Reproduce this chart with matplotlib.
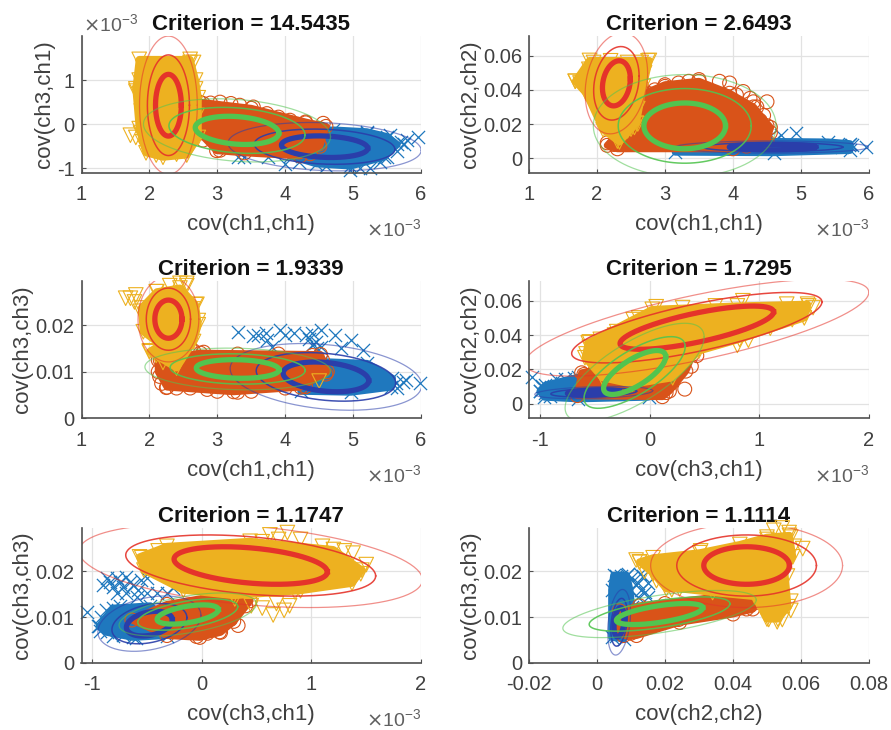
#!/usr/bin/env python3
# coding: utf-8

import matplotlib

matplotlib.use("Agg")
import matplotlib.pyplot as plt
import numpy as np

# x-values of ch1 and ch3,ch1 axes are in units of 1e-3 (as the axis multiplier shows)
titles = ["Criterion = 14.5435", "Criterion = 2.6493", "Criterion = 1.9339",
          "Criterion = 1.7295", "Criterion = 1.1747", "Criterion = 1.1114"]
xlabels = ["cov(ch1,ch1)", "cov(ch1,ch1)", "cov(ch1,ch1)",
           "cov(ch3,ch1)", "cov(ch3,ch1)", "cov(ch2,ch2)"]
ylabels = ["cov(ch3,ch1)", "cov(ch2,ch2)", "cov(ch3,ch3)",
           "cov(ch2,ch2)", "cov(ch3,ch3)", "cov(ch3,ch3)"]

xticks_ch1 = [1, 2, 3, 4, 5, 6]
xticks_ch31 = [-1, 0, 1, 2]
xticks_ch22 = [-0.02, 0, 0.02, 0.04, 0.06, 0.08]
yticks_ch31 = [-1, 0, 1]
yticks_ch22 = [0, 0.02, 0.04, 0.06]
yticks_ch33 = [0, 0.01, 0.02]
xticklabels_ch22 = ["-0.02", "0", "0.02", "0.04", "0.06", "0.08"]
yticklabels_ch22 = ["0", "0.02", "0.04", "0.06"]
yticklabels_ch33 = ["0", "0.01", "0.02"]

xlim_ch1 = (1, 6)
xlim_ch31 = (-1.1, 2)
xlim_ch22 = (-0.02, 0.08)
ylim_ch31 = (-1.1, 2)
ylim_ch22 = (-0.0085, 0.0715)
ylim_ch33 = (0, 0.0295)

# ellipses: cx, cy, sx, sy, corr
p1_red = (2.28, 0.43, 0.19, 0.70, 0.0)
p1_green = (3.29, -0.14, 0.615, 0.32, -0.2)
p1_blue = (4.58, -0.51, 0.635, 0.245, -0.15)
p2_red = (2.285, 0.0438, 0.205, 0.0132, 0.2)
p2_green = (3.29, 0.0189, 0.60, 0.0134, 0.0)
p2_blue = (4.58, 0.0065, 0.635, 0.0016, 0.0)
p3_red = (2.28, 0.0213, 0.20, 0.0041, 0.0)
p3_green = (3.30, 0.0106, 0.61, 0.0020, -0.1)
p3_blue = (4.60, 0.0089, 0.63, 0.0032, -0.25)
p4_red = (0.43, 0.0443, 0.70, 0.0126, 0.73)
p4_green = (-0.137, 0.0182, 0.283, 0.0128, 0.72)
p4_blue = (-0.51, 0.0065, 0.24, 0.0016, 0.3)
p5_red = (0.445, 0.0213, 0.70, 0.0041, -0.34)
p5_green = (-0.13, 0.0106, 0.28, 0.0021, 0.5)
p5_blue = (-0.48, 0.0086, 0.21, 0.0027, 0.3)
p6_red = (0.044, 0.0213, 0.0126, 0.0041, 0.0)
p6_green = (0.0184, 0.0107, 0.0127, 0.0023, 0.6)
p6_blue = (0.0065, 0.0089, 0.0015, 0.0032, 0.3)

# dense core outlines of each cluster
p1_yel_core = [(1.85, 1.47), (2.6, 1.47), (2.68, 1.0), (2.72, 0.6), (2.72, -0.3), (2.55, -0.7),
               (2.2, -0.75), (1.95, -0.65), (1.85, -0.1), (1.8, 0.8)]
p1_org_core = [(2.74, 0.5), (3.5, 0.36), (4.3, 0.05), (4.6, -0.05), (4.51, -0.5), (4.22, -0.72), (3.4, -0.65),
               (2.99, -0.6), (2.74, -0.2)]
p1_blu_core = [(4.12, -0.2), (4.71, -0.13), (5.2, -0.17), (5.5, -0.28), (5.65, -0.46), (5.45, -0.75), (4.96, -0.95),
               (4.46, -0.9), (4.07, -0.72), (3.9, -0.5)]
p2_yel_core = [(1.89, 0.0572), (2.77, 0.0572), (2.68, 0.042), (2.58, 0.0205), (2.33, 0.0095),
               (2.09, 0.0166), (1.84, 0.038), (1.68, 0.045)]
p2_org_core = [(2.15, 0.0075), (2.3, 0.0055), (4.0, 0.0055), (4.5, 0.01), (4.55, 0.018), (4.3, 0.03),
               (3.95, 0.038), (3.5, 0.045), (3.0, 0.043), (2.7, 0.038), (2.6, 0.03), (2.4, 0.018)]
p2_blu_core = [(3.15, 0.0035), (3.5, 0.0085), (4.6, 0.0098), (5.4, 0.0095), (5.72, 0.0085), (5.72, 0.0045), (4.6, 0.0032)]
p3_yel_core = [(1.88, 0.0237), (2.11, 0.0272), (2.45, 0.028), (2.68, 0.0244), (2.72, 0.0201), (2.65, 0.0165),
               (2.4, 0.0108), (2.0, 0.0143), (2.16, 0.0158), (1.91, 0.0186)]
p3_org_core = [(2.13, 0.0125), (2.75, 0.014), (4.52, 0.0137), (4.62, 0.01), (4.23, 0.0067), (3.24, 0.0057),
               (2.26, 0.0067), (2.13, 0.01)]
p3_blu_core = [(4.2, 0.0122), (4.52, 0.0122), (5.21, 0.0118), (5.58, 0.0086), (5.56, 0.0067), (4.97, 0.0056), (4.23, 0.0058)]
p4_yel_core = [(-0.56, 0.0355), (0.024, 0.055), (0.8, 0.057), (1.44, 0.058), (1.41, 0.05), (0.82, 0.0375), (0.45, 0.0307),
               (0.21, 0.0151), (-0.16, 0.0113), (-0.43, 0.0151), (-0.59, 0.0268)]
p4_org_core = [(-0.66, 0.0047), (-0.62, 0.018), (-0.04, 0.0258), (0.39, 0.0287), (0.33, 0.019), (0.18, 0.0074), (0.116, 0.0041)]
p4_blu_core = [(-1.0, 0.0074), (-0.95, 0.0108), (-0.65, 0.0155), (-0.04, 0.015), (-0.01, 0.0038), (-0.65, 0.0028), (-0.96, 0.0038)]
p5_yel_core = [(-0.57, 0.0232), (-0.32, 0.0255), (0.44, 0.0266), (1.2, 0.0248), (1.46, 0.0203), (1.37, 0.0174),
               (0.9, 0.0158), (0.29, 0.0147), (-0.17, 0.0159), (-0.53, 0.0203)]
p5_org_core = [(-0.64, 0.0094), (-0.32, 0.0128), (0.05, 0.0143), (0.44, 0.0136), (0.29, 0.0091), (0.17, 0.0067),
               (-0.02, 0.0056), (-0.32, 0.006)]
p5_blu_core = [(-0.94, 0.008), (-0.81, 0.012), (-0.47, 0.0125), (-0.28, 0.0087), (-0.32, 0.006), (-0.63, 0.0056), (-0.87, 0.0067)]
p6_yel_core = [(0.0125, 0.0221), (0.0165, 0.023), (0.0302, 0.0241), (0.042, 0.0259), (0.05, 0.0275), (0.0566, 0.0279),
               (0.0576, 0.0232), (0.0552, 0.0203), (0.0562, 0.0123), (0.0532, 0.0096), (0.05, 0.0096), (0.0464, 0.0145),
               (0.034, 0.0154), (0.0243, 0.0162), (0.0204, 0.0162), (0.0165, 0.0196)]
p6_org_core = [(0.0066, 0.0114), (0.0125, 0.0125), (0.034, 0.0143), (0.0458, 0.0143), (0.0458, 0.0118), (0.04, 0.0107),
               (0.0243, 0.0089), (0.0116, 0.006), (0.0078, 0.006), (0.0066, 0.0074)]
p6_blu_core = [(0.0043, 0.0056), (0.0043, 0.016), (0.0049, 0.0192), (0.0087, 0.0192), (0.0097, 0.016), (0.0102, 0.0123), (0.0078, 0.0053)]

# outlying markers around the cores
p1_yel_pts = [(1.72, -0.25), (1.8, -0.3), (1.9, -0.4), (1.85, 0.7), (1.8, 0.75), (2.65, 1.4), (2.68, 0.8), (1.9, 1.3),
              (2.6, -0.4), (2.1, -0.7), (2.4, -0.68), (2.6, 1.4), (1.88, 0.3), (2.7, 0.2), (1.95, -0.55), (1.85, 1.0),
              (1.87, -0.2), (2.68, -0.05)]
p1_org_pts = [(2.79, 0.47), (3.04, 0.5), (3.53, 0.39), (4.56, 0.02), (4.51, -0.1), (3.04, -0.59), (2.79, -0.36),
              (4.37, -0.67), (3.73, 0.24), (4.07, 0.09), (3.33, 0.43), (3.2, 0.47), (2.9, 0.48), (3.9, 0.16), (4.3, 0.03), (4.5, -0.45)]
p1_blu_pts = [(5.95, -0.3), (5.7, -0.4), (5.75, -0.45), (5.65, -0.6), (5.8, -0.35), (4.95, -1.05), (5.25, -1.0),
              (4.0, -0.9), (3.4, -0.75), (3.3, -0.75), (3.75, -0.75), (5.1, -1.0), (4.2, -0.85), (5.5, -0.75),
              (4.6, -0.95), (5.4, -0.85), (5.55, -0.25), (5.2, -0.2)]
p2_yel_pts = [(1.68, 0.045), (1.75, 0.044), (1.8, 0.042), (1.88, 0.052), (2.75, 0.057), (2.7, 0.05), (2.6, 0.029),
              (2.55, 0.018), (2.5, 0.017), (2.45, 0.016), (2.6, 0.02), (2.3, 0.01), (2.1, 0.02), (2.65, 0.056),
              (1.95, 0.056), (2.2, 0.057), (2.45, 0.056), (1.85, 0.04)]
p2_org_pts = [(4.5, 0.033), (4.45, 0.025), (3.95, 0.044), (4.15, 0.039), (3.5, 0.046), (3.35, 0.045), (4.3, 0.033),
              (4.35, 0.03), (2.65, 0.043), (2.85, 0.04), (3.0, 0.042), (3.2, 0.044), (4.5, 0.019), (4.05, 0.037),
              (4.25, 0.035), (4.4, 0.022), (2.75, 0.038), (3.8, 0.045), (2.15, 0.009), (2.25, 0.008), (4.55, 0.015), (4.2, 0.007)]
p2_blu_pts = [(4.7, 0.0135), (4.92, 0.0145), (4.55, 0.013), (5.7, 0.008), (5.95, 0.0065), (5.75, 0.0075), (5.6, 0.0065)]
p3_yel_pts = [(1.65, 0.0258), (1.72, 0.0258), (1.8, 0.0265), (1.78, 0.025), (2.45, 0.029), (2.55, 0.029), (2.65, 0.0235),
              (2.7, 0.0245), (2.72, 0.021), (2.55, 0.0285), (2.0, 0.0145), (2.1, 0.0135), (2.2, 0.012), (2.3, 0.014),
              (2.4, 0.013), (1.87, 0.023), (4.5, 0.008), (2.5, 0.0135), (2.3, 0.0285), (2.1, 0.0272)]
p3_org_pts = [(2.2, 0.0115), (2.15, 0.009), (2.25, 0.0066), (2.4, 0.0065), (2.6, 0.0065), (3.3, 0.0056), (3.5, 0.0058),
              (4.55, 0.0125), (4.6, 0.0095), (4.3, 0.0068), (2.6, 0.0152), (2.65, 0.0145), (3.0, 0.0058), (2.85, 0.0062),
              (4.0, 0.0065), (3.3, 0.0138), (3.9, 0.0138), (2.16, 0.0125), (2.18, 0.0075), (2.8, 0.0142), (4.4, 0.0135)]
p3_blu_pts = [(3.3, 0.0186), (3.52, 0.0176), (3.71, 0.0183), (3.73, 0.0168), (3.81, 0.0154), (3.93, 0.019), (4.0, 0.018),
              (4.13, 0.0183), (4.3, 0.018), (4.4, 0.0183), (4.52, 0.019), (4.45, 0.0165), (4.52, 0.0154), (4.74, 0.018),
              (4.97, 0.0168), (4.82, 0.015), (5.14, 0.0147), (4.35, 0.017), (4.47, 0.015), (3.6, 0.018), (4.4, 0.0158),
              (5.63, 0.0075), (5.73, 0.0079), (5.98, 0.0075), (5.65, 0.0065), (5.78, 0.0082)]
p4_yel_pts = [(0.06, 0.0565), (0.3, 0.056), (0.85, 0.06), (1.25, 0.058), (1.45, 0.057), (1.49, 0.056), (-0.55, 0.033),
              (-0.58, 0.029), (-0.55, 0.036), (-0.3, 0.042), (-0.32, 0.04), (-0.15, 0.049), (0.8, 0.034), (0.9, 0.037),
              (0.2, 0.02), (-0.2, 0.019), (-0.3, 0.03), (0.25, 0.024), (1.4, 0.052), (-0.1, 0.05), (0.6, 0.057), (1.1, 0.044),
              (1.3, 0.049), (-0.45, 0.0375)]
p4_org_pts = [(0.38, 0.0218), (0.32, 0.0085), (0.43, 0.028), (0.15, 0.0065), (0.2, 0.012), (0.25, 0.019), (-0.6, 0.017),
              (-0.5, 0.019), (-0.55, 0.0145)]
p4_blu_pts = [(-1.07, 0.0155), (-0.98, 0.0105), (-1.0, 0.0075), (-0.95, 0.006), (-0.93, 0.008), (-0.85, 0.0145),
              (-0.77, 0.0142), (-0.69, 0.0151), (-0.86, 0.0083), (-0.9, 0.0095), (-0.97, 0.009), (-0.8, 0.012), (-0.91, 0.0045)]
p5_yel_pts = [(0.78, 0.0285), (0.62, 0.028), (0.55, 0.0265), (0.7, 0.027), (1.3, 0.0245), (1.38, 0.024), (1.5, 0.0215),
              (1.45, 0.0195), (-0.55, 0.023), (-0.4, 0.0245), (0.75, 0.0115), (0.65, 0.0105), (0.55, 0.012), (0.68, 0.013),
              (0.45, 0.0125), (0.8, 0.0125), (0.3, 0.014), (-0.3, 0.0185), (0.85, 0.0155), (0.9, 0.027), (1.1, 0.0255)]
p5_org_pts = [(0.33, 0.0082), (0.05, 0.0065), (0.16, 0.0068), (0.4, 0.0125), (0.3, 0.014), (0.1, 0.0148), (-0.05, 0.0058), (0.26, 0.0095)]
p5_blu_pts = [(-0.87, 0.0185), (-0.78, 0.0185), (-0.69, 0.0188), (-0.56, 0.0181), (-0.9, 0.017), (-0.81, 0.0167),
              (-0.72, 0.0167), (-0.63, 0.017), (-0.5, 0.0185), (-0.84, 0.0178), (-0.75, 0.0178), (-0.66, 0.0178),
              (-0.58, 0.0159), (-0.5, 0.0152), (-0.41, 0.0152), (-0.32, 0.0152), (-0.26, 0.0163), (-0.78, 0.0152),
              (-0.69, 0.0152), (-0.59, 0.0145), (-1.05, 0.0112), (-0.945, 0.008), (-0.93, 0.0069), (-0.81, 0.0058),
              (-0.88, 0.0115), (-0.92, 0.01), (-0.85, 0.0078), (-0.75, 0.0125), (-0.72, 0.0062), (-0.6, 0.0055)]
p6_yel_pts = [(0.0115, 0.0225), (0.0125, 0.022), (0.014, 0.02), (0.0165, 0.0195), (0.022, 0.016), (0.0305, 0.0245),
              (0.052, 0.029), (0.0545, 0.0295), (0.0565, 0.0285), (0.057, 0.0275), (0.058, 0.0255), (0.0605, 0.025),
              (0.0545, 0.0095), (0.0505, 0.0095), (0.053, 0.009), (0.057, 0.0115), (0.057, 0.0135), (0.0285, 0.0175),
              (0.033, 0.018), (0.0175, 0.018), (0.05, 0.027), (0.056, 0.019)]
p6_org_pts = [(0.0095, 0.0066), (0.01, 0.0065), (0.045, 0.0125), (0.046, 0.013), (0.044, 0.0118), (0.043, 0.013),
              (0.04, 0.012), (0.03, 0.0125), (0.035, 0.012), (0.024, 0.0095), (0.016, 0.01), (0.02, 0.013), (0.038, 0.0138)]
p6_blu_pts = [(0.0055, 0.019), (0.007, 0.019), (0.009, 0.0195), (0.012, 0.0175), (0.0115, 0.017), (0.013, 0.016),
              (0.014, 0.0155), (0.015, 0.0145), (0.012, 0.0145), (0.01, 0.0185), (0.0135, 0.019), (0.015, 0.0175),
              (0.0125, 0.0195), (0.0055, 0.006), (0.0055, 0.013), (0.0075, 0.016)]

W, H = 891, 730
COLS = [(81.5, 421), (529, 869)]
ROWS = [(36, 172.7), (281, 418.3), (528, 663)]
YEL, ORG, BLU = "#EDB120", "#D95319", "#1F78BE"
RED, GRN, DBL = "#E5332A", "#52C44F", "#2A3EAA"
TXT = "#404040"
SCALES = [(2.24, 0.9, 0.55), (1.63, 1.1, 0.9), (1.0, 3.8, 1.0)]


def draw_ellipse(ax, par, color):
    cx, cy, sx, sy, r = par
    t = np.linspace(0, 2 * np.pi, 200)
    for k, lw, alpha in SCALES:
        x = cx + k * sx * np.cos(t)
        y = cy + k * sy * (r * np.cos(t) + np.sqrt(1 - r ** 2) * np.sin(t))
        ax.plot(x, y, color=color, lw=lw, alpha=alpha, zorder=5)


def draw_cluster(ax, core, pts, color, marker, size, z):
    # thick round edge softens the corners of the outline
    ax.fill(*zip(*core), facecolor=color, edgecolor=color, lw=5, joinstyle="round", zorder=z)
    px, py = zip(*(pts + core))
    if marker == "x":
        ax.scatter(px, py, s=size, marker=marker, color=color, linewidths=0.9, zorder=z, clip_on=False)
    else:
        ax.scatter(px, py, s=size, marker=marker, facecolors="none", edgecolors=color, linewidths=0.8,
                   zorder=z, clip_on=False)


plt.rcParams["font.family"] = ["Liberation Sans", "DejaVu Sans"]
fig = plt.figure(figsize=(W / 100, H / 100), dpi=100)

panels = [
    (xticks_ch1, xticks_ch1, xlim_ch1, yticks_ch31, yticks_ch31, ylim_ch31,
     p1_yel_core, p1_org_core, p1_blu_core, p1_yel_pts, p1_org_pts, p1_blu_pts, p1_red, p1_green, p1_blue),
    (xticks_ch1, xticks_ch1, xlim_ch1, yticks_ch22, yticklabels_ch22, ylim_ch22,
     p2_yel_core, p2_org_core, p2_blu_core, p2_yel_pts, p2_org_pts, p2_blu_pts, p2_red, p2_green, p2_blue),
    (xticks_ch1, xticks_ch1, xlim_ch1, yticks_ch33, yticklabels_ch33, ylim_ch33,
     p3_yel_core, p3_org_core, p3_blu_core, p3_yel_pts, p3_org_pts, p3_blu_pts, p3_red, p3_green, p3_blue),
    (xticks_ch31, xticks_ch31, xlim_ch31, yticks_ch22, yticklabels_ch22, ylim_ch22,
     p4_yel_core, p4_org_core, p4_blu_core, p4_yel_pts, p4_org_pts, p4_blu_pts, p4_red, p4_green, p4_blue),
    (xticks_ch31, xticks_ch31, xlim_ch31, yticks_ch33, yticklabels_ch33, ylim_ch33,
     p5_yel_core, p5_org_core, p5_blu_core, p5_yel_pts, p5_org_pts, p5_blu_pts, p5_red, p5_green, p5_blue),
    (xticks_ch22, xticklabels_ch22, xlim_ch22, yticks_ch33, yticklabels_ch33, ylim_ch33,
     p6_yel_core, p6_org_core, p6_blu_core, p6_yel_pts, p6_org_pts, p6_blu_pts, p6_red, p6_green, p6_blue),
]

for i, p in enumerate(panels):
    xt, xtl, xl, yt, ytl, yl, yc, oc, bc, yp, op, bp, red, grn, blu = p
    (x0, x1), (y0, y1) = COLS[i % 2], ROWS[i // 2]
    ax = fig.add_axes([x0 / W, 1 - y1 / H, (x1 - x0) / W, (y1 - y0) / H])

    draw_cluster(ax, bc, bp, BLU, "x", 90, 2)
    draw_cluster(ax, oc, op, ORG, "o", 100, 3)
    draw_cluster(ax, yc, yp, YEL, "v", 110, 4)
    draw_ellipse(ax, blu, DBL)
    draw_ellipse(ax, red, RED)
    draw_ellipse(ax, grn, GRN)

    ax.set_xlim(*xl)
    ax.set_ylim(*yl)
    ax.set_xticks(xt, [str(v) for v in xtl])
    ax.set_yticks(yt, [str(v) for v in ytl])
    ax.grid(True, color="#e2e2e2", lw=0.9)
    ax.set_axisbelow(True)
    ax.spines["top"].set_visible(False)
    ax.spines["right"].set_visible(False)
    for s in ("left", "bottom"):
        ax.spines[s].set_color("#505050")
        ax.spines[s].set_linewidth(1.2)
        ax.spines[s].set_zorder(6)
    ax.tick_params(direction="in", length=3, width=0.8, color="#505050", labelcolor=TXT, labelsize=14.5)
    ax.tick_params(axis="x", pad=9)
    ax.tick_params(axis="y", pad=5)

    ax.set_title(titles[i], fontsize=16, fontweight="bold", color="#111111", pad=4)
    ax.set_xlabel(xlabels[i], fontsize=16, color=TXT, labelpad=7)
    ax.set_ylabel(ylabels[i], fontsize=16, color=TXT, labelpad=1.5)

    if i != 5:
        ax.text(1.0, -0.415, r"$\times\mathregular{10^{-3}}$", transform=ax.transAxes, ha="right", va="center",
                fontsize=14, color="#606060")
    if i == 0:
        ax.text(0.005, 1.085, r"$\times\mathregular{10^{-3}}$", transform=ax.transAxes, ha="left", va="center",
                fontsize=14, color="#606060")

plt.savefig("out.png", dpi=100)
